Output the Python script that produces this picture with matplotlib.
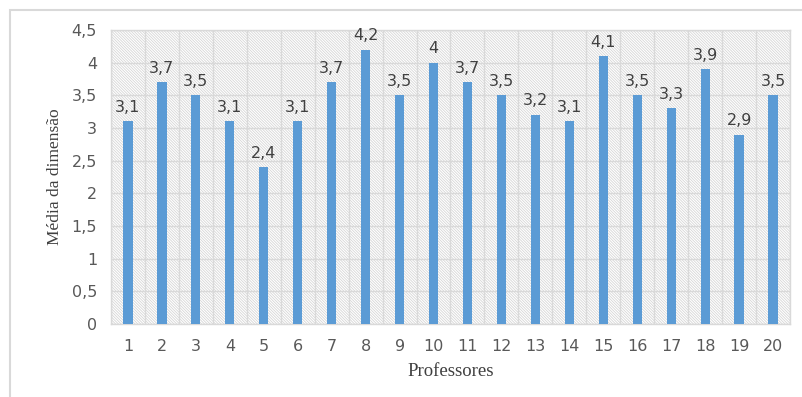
import matplotlib.pyplot as plt
import matplotlib.patches as mpatches
import numpy as np

professores = [str(i) for i in range(1, 21)]
medias = [3.1, 3.7, 3.5, 3.1, 2.4, 3.1, 3.7, 4.2, 3.5, 4.0,
          3.7, 3.5, 3.2, 3.1, 4.1, 3.5, 3.3, 3.9, 2.9, 3.5]
y_ticks = [0, 0.5, 1, 1.5, 2, 2.5, 3, 3.5, 4, 4.5]

plt.rcParams['hatch.color'] = '#d6d6d6'
plt.rcParams['hatch.linewidth'] = 0.6

fig = plt.figure(figsize=(8.03, 3.97), dpi=100)
ax = fig.add_axes([111 / 803, 1 - 324 / 397, (790 - 111) / 803, (324 - 30) / 397])

# moldura externa do gráfico
frame = mpatches.Rectangle((10 / 803, -0.1), 1.2, 1 - 10 / 397 + 0.1,
                           transform=fig.transFigure, fill=False,
                           edgecolor='#d9d9d9', linewidth=1.5, zorder=0)
fig.patches.append(frame)

x = np.arange(len(professores))

# fundo hachurado da área de plotagem
ax.patch.set_facecolor('white')
bg = mpatches.Rectangle((0, 0), 1, 1, transform=ax.transAxes,
                        facecolor='white', edgecolor='#d6d6d6',
                        hatch='\\' * 12, linewidth=0, zorder=0)
ax.add_patch(bg)

ax.bar(x, medias, width=0.27, color='#5b9bd5', zorder=3)

for i in range(len(medias)):
    txt = f'{medias[i]:g}'.replace('.', ',')
    ax.text(x[i], medias[i] + 0.1, txt, ha='center', va='bottom',
            fontsize=11.5, color='#404040', zorder=4)

ax.set_xlim(-0.5, len(professores) - 0.5)
ax.set_ylim(0, 4.5)
ax.set_xticks(x)
ax.set_xticklabels(professores)
ax.set_xticks(np.arange(-0.5, len(professores), 1), minor=True)
ax.set_yticks(y_ticks)
ax.set_yticklabels([f'{v:g}'.replace('.', ',') for v in y_ticks])

ax.grid(True, which='minor', axis='x', color='#d9d9d9', linewidth=1, zorder=1)
ax.grid(True, which='major', axis='y', color='#d9d9d9', linewidth=1, zorder=1)
ax.set_axisbelow(True)

ax.tick_params(axis='both', which='both', length=0, labelsize=11.5,
               labelcolor='#595959')
ax.tick_params(axis='x', pad=11)
ax.tick_params(axis='y', pad=10)

for s in ax.spines.values():
    s.set_color('#d9d9d9')
    s.set_linewidth(1)

ax.set_xlabel('Professores', family='Liberation Serif', fontsize=13.5,
              color='#404040', labelpad=6)
ax.set_ylabel('Média da dimensão', family='Liberation Serif', fontsize=12.5,
              color='#404040', labelpad=6)

fig.savefig('out.png', dpi=100)
